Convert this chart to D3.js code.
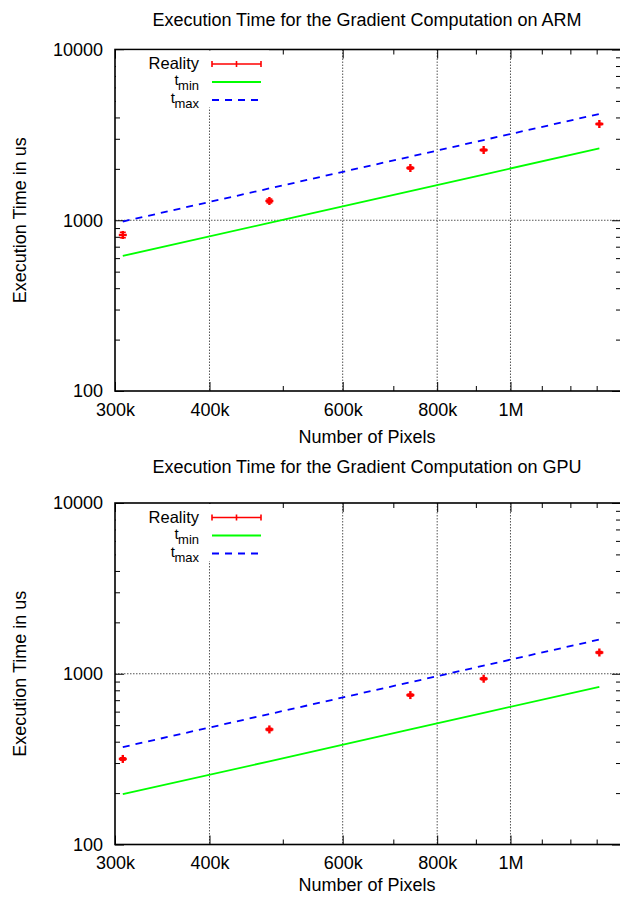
<!DOCTYPE html>
<html>
<head>
<meta charset="utf-8">
<script src="https://cdn.jsdelivr.net/npm/d3@7"></script>
<style>
  body { margin: 0; background: #fff; }
  svg text { font-family: "Liberation Sans", Arial, Helvetica, sans-serif; font-size: 18px; fill: #000; }
</style>
</head>
<body>
<svg id="chart" width="620" height="899"></svg>
<script>
// x values: image sizes in pixels
const pixels = [307200, 480000, 737280, 921600, 1310720];

const xTickValues = [300000, 400000, 600000, 800000, 1000000];
const xTickLabels = ['300k', '400k', '600k', '800k', '1M'];
const xMinorTicks = [500000, 700000, 900000, 1100000, 1200000, 1300000];
const xGridValues = [400000, 600000, 800000, 1000000];
const yTickValues = [100, 1000, 10000];
const yMinorTicks = [200, 300, 400, 500, 600, 700, 800, 900, 2000, 3000, 4000, 5000, 6000, 7000, 8000, 9000];
const yGridValues = [1000];

// ARM measurements (us)
const armReality = [820, 1297, 2023, 2578, 3662];
const armLow = [790, 1265, 1995, 2550, 3630];
const armHigh = [850, 1330, 2050, 2605, 3695];
const armTmin = [618, 965, 1482, 1853, 2635];
const armTmax = [983, 1536, 2359, 2949, 4194];

// GPU measurements (us)
const gpuReality = [317, 472, 750, 935, 1332];
const gpuLow = [312, 465, 740, 922, 1315];
const gpuHigh = [322, 479, 760, 948, 1349];
const gpuTmin = [197, 307, 472, 590, 839];
const gpuTmax = [372, 581, 892, 1115, 1586];

const legendNames = ['Reality', 't_min', 't_max'];

class LogPlot {

  constructor(_config, _data) {
    this.config = {
      parentElement: _config.parentElement,
      title: _config.title,
      top: _config.top,
      titleY: _config.titleY,
      xLabelY: _config.xLabelY,
      height: 341.5,
      left: 115,
      right: 621
    };
    this.data = _data;
    this.initVis();
  }

  initVis() {
    let vis = this;
    const c = vis.config;
    vis.bottom = c.top + c.height;

    vis.xScale = d3.scaleLog()
      .domain([300000, 1400000])
      .range([c.left, c.right]);

    vis.yScale = d3.scaleLog()
      .domain([100, 10000])
      .range([vis.bottom, c.top]);

    vis.svg = d3.select(c.parentElement);
    vis.g = vis.svg.append('g');

    // title
    vis.g.append('text')
      .attr('x', (c.left + c.right) / 2 - 1)
      .attr('y', c.titleY)
      .attr('text-anchor', 'middle')
      .text(c.title);

    // axis titles
    vis.g.append('text')
      .attr('x', (c.left + c.right) / 2 - 1)
      .attr('y', c.xLabelY)
      .attr('text-anchor', 'middle')
      .text('Number of Pixels');

    vis.g.append('text')
      .attr('transform', `translate(26,${(c.top + vis.bottom) / 2}) rotate(-90)`)
      .attr('text-anchor', 'middle')
      .text('Execution Time in us');

    vis.renderVis();
  }

  renderVis() {
    let vis = this;
    const c = vis.config;

    // grid
    vis.g.append('g').selectAll('line.gx')
      .data(xGridValues)
      .join('line')
      .attr('x1', d => vis.xScale(d)).attr('x2', d => vis.xScale(d))
      .attr('y1', c.top).attr('y2', vis.bottom)
      .attr('stroke', '#555').attr('stroke-width', 1)
      .attr('stroke-dasharray', '1.5,1.5');

    vis.g.append('g').selectAll('line.gy')
      .data(yGridValues)
      .join('line')
      .attr('x1', c.left).attr('x2', c.right)
      .attr('y1', d => vis.yScale(d)).attr('y2', d => vis.yScale(d))
      .attr('stroke', '#555').attr('stroke-width', 1)
      .attr('stroke-dasharray', '1.5,1.5');

    // axes: major and minor ticks on all four sides, pointing inward
    const addAxis = (axis, transform) => {
      const ax = vis.g.append('g')
        .attr('transform', transform)
        .call(axis);
      ax.select('.domain').remove();
      ax.selectAll('line').attr('stroke', '#000').attr('stroke-width', 1);
      return ax;
    };

    const xb = addAxis(d3.axisBottom(vis.xScale).tickValues(xTickValues)
      .tickSize(-9).tickPadding(12).tickFormat((d, i) => xTickLabels[i]), `translate(0,${vis.bottom})`);
    xb.selectAll('text').style('font-size', '18px').style('font-family', null);
    addAxis(d3.axisBottom(vis.xScale).tickValues(xMinorTicks).tickSize(-5).tickFormat(''), `translate(0,${vis.bottom})`);
    addAxis(d3.axisTop(vis.xScale).tickValues(xTickValues).tickSize(-9).tickFormat(''), `translate(0,${c.top})`);
    addAxis(d3.axisTop(vis.xScale).tickValues(xMinorTicks).tickSize(-5).tickFormat(''), `translate(0,${c.top})`);

    const yl = addAxis(d3.axisLeft(vis.yScale).tickValues(yTickValues)
      .tickSize(-9).tickPadding(12).tickFormat(d3.format('d')), `translate(${c.left},0)`);
    yl.selectAll('text').style('font-size', '18px').style('font-family', null);
    addAxis(d3.axisLeft(vis.yScale).tickValues(yMinorTicks).tickSize(-5).tickFormat(''), `translate(${c.left},0)`);
    addAxis(d3.axisRight(vis.yScale).tickValues(yTickValues).tickSize(-9).tickFormat(''), `translate(${c.right},0)`);
    addAxis(d3.axisRight(vis.yScale).tickValues(yMinorTicks).tickSize(-5).tickFormat(''), `translate(${c.right},0)`);

    // frame
    vis.g.append('rect')
      .attr('x', c.left).attr('y', c.top)
      .attr('width', c.right - c.left).attr('height', c.height)
      .attr('fill', 'none').attr('stroke', '#000').attr('stroke-width', 1.6);

    // model lines
    const line = d3.line()
      .x(d => vis.xScale(d.x))
      .y(d => vis.yScale(d.y));

    const series = (vals) => pixels.map((x, i) => ({ x: x, y: vals[i] }));

    vis.g.append('path')
      .datum(series(vis.data.tmin))
      .attr('d', line)
      .attr('fill', 'none').attr('stroke', '#00ff00').attr('stroke-width', 1.8);

    vis.g.append('path')
      .datum(series(vis.data.tmax))
      .attr('d', line)
      .attr('fill', 'none').attr('stroke', '#0000ff').attr('stroke-width', 1.8)
      .attr('stroke-dasharray', '7,6');

    // measured points with error bars
    const pts = pixels.map((x, i) => ({
      x: x, y: vis.data.reality[i], lo: vis.data.low[i], hi: vis.data.high[i]
    }));

    const pg = vis.g.append('g').selectAll('g')
      .data(pts)
      .join('g')
      .attr('stroke', '#ff0000').attr('stroke-width', 1.6);

    pg.append('line')
      .attr('x1', d => vis.xScale(d.x)).attr('x2', d => vis.xScale(d.x))
      .attr('y1', d => vis.yScale(d.lo)).attr('y2', d => vis.yScale(d.hi));
    pg.append('line')
      .attr('x1', d => vis.xScale(d.x) - 3).attr('x2', d => vis.xScale(d.x) + 3)
      .attr('y1', d => vis.yScale(d.lo)).attr('y2', d => vis.yScale(d.lo));
    pg.append('line')
      .attr('x1', d => vis.xScale(d.x) - 3).attr('x2', d => vis.xScale(d.x) + 3)
      .attr('y1', d => vis.yScale(d.hi)).attr('y2', d => vis.yScale(d.hi));
    // '+' point
    pg.append('line')
      .attr('stroke-width', 2.4)
      .attr('x1', d => vis.xScale(d.x) - 4).attr('x2', d => vis.xScale(d.x) + 4)
      .attr('y1', d => vis.yScale(d.y)).attr('y2', d => vis.yScale(d.y));
    pg.append('line')
      .attr('stroke-width', 2.4)
      .attr('x1', d => vis.xScale(d.x)).attr('x2', d => vis.xScale(d.x))
      .attr('y1', d => vis.yScale(d.y) - 4).attr('y2', d => vis.yScale(d.y) + 4);

    vis.renderLegend();
  }

  renderLegend() {
    let vis = this;
    const c = vis.config;
    const lg = vis.g.append('g');

    // opaque key box hides the grid behind it
    lg.append('rect')
      .attr('x', c.left + 1).attr('y', c.top + 1)
      .attr('width', 153).attr('height', 57)
      .attr('fill', '#fff');

    const rowY = i => c.top + 14.5 + i * 18;
    const x0 = 212, x1 = 261;

    legendNames.forEach((name, i) => {
      if (name.indexOf('_') > 0) {
        // base letter and subscript as two texts, subscript right-aligned at the key edge
        const parts = name.split('_');
        const sub = lg.append('text')
          .attr('x', 199)
          .attr('y', rowY(i) + 8)
          .attr('text-anchor', 'end')
          .style('font-size', '13px')
          .text(parts[1]);
        const w = sub.node().getComputedTextLength();
        lg.append('text')
          .attr('x', 199 - w + 0.5)
          .attr('y', rowY(i) + 3)
          .attr('text-anchor', 'end')
          .style('font-size', '15px')
          .text(parts[0]);
      } else {
        lg.append('text')
          .attr('x', 199)
          .attr('y', rowY(i) + 5)
          .attr('text-anchor', 'end')
          .style('font-size', '16.5px')
          .text(name);
      }
    });

    // Reality sample: horizontal error bar with a '+' in the middle
    const r = lg.append('g').attr('stroke', '#ff0000').attr('stroke-width', 1.6);
    r.append('line').attr('x1', x0).attr('x2', x1).attr('y1', rowY(0)).attr('y2', rowY(0));
    r.append('line').attr('x1', x0).attr('x2', x0).attr('y1', rowY(0) - 3).attr('y2', rowY(0) + 3);
    r.append('line').attr('x1', x1).attr('x2', x1).attr('y1', rowY(0) - 3).attr('y2', rowY(0) + 3);
    r.append('line').attr('x1', (x0 + x1) / 2).attr('x2', (x0 + x1) / 2).attr('y1', rowY(0) - 3).attr('y2', rowY(0) + 3);

    lg.append('line')
      .attr('x1', x0).attr('x2', x1).attr('y1', rowY(1)).attr('y2', rowY(1))
      .attr('stroke', '#00ff00').attr('stroke-width', 1.8);

    lg.append('line')
      .attr('x1', x0).attr('x2', x1 - 3).attr('y1', rowY(2)).attr('y2', rowY(2))
      .attr('stroke', '#0000ff').attr('stroke-width', 1.8)
      .attr('stroke-dasharray', '7,6');
  }
}

new LogPlot({
  parentElement: '#chart',
  title: 'Execution Time for the Gradient Computation on ARM',
  top: 49.5,
  titleY: 26,
  xLabelY: 443
}, { reality: armReality, low: armLow, high: armHigh, tmin: armTmin, tmax: armTmax });

new LogPlot({
  parentElement: '#chart',
  title: 'Execution Time for the Gradient Computation on GPU',
  top: 503,
  titleY: 473,
  xLabelY: 891
}, { reality: gpuReality, low: gpuLow, high: gpuHigh, tmin: gpuTmin, tmax: gpuTmax });
</script>
</body>
</html>
